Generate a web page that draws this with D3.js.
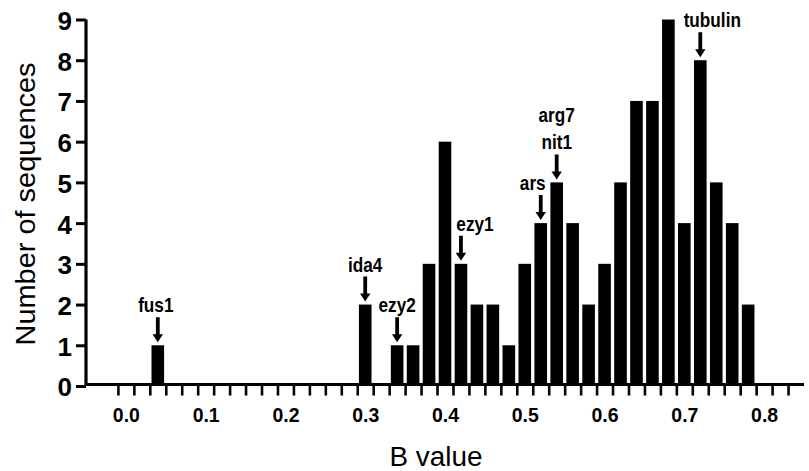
<!DOCTYPE html>
<html>
<head>
<meta charset="utf-8">
<script src="https://cdn.jsdelivr.net/npm/d3@7"></script>
<style>
  body { margin: 0; background: #fff; }
  svg { display: block; }
  text { font-family: "Liberation Sans", Arial, sans-serif; fill: #000; }
</style>
</head>
<body>
<div id="chart"></div>
<script>
    // histogram of B values, bins are 0.02 wide
    var binCenters = [0.04, 0.30, 0.34, 0.36, 0.38, 0.40, 0.42, 0.44, 0.46, 0.48,
                      0.50, 0.52, 0.54, 0.56, 0.58, 0.60, 0.62, 0.64, 0.66, 0.68,
                      0.70, 0.72, 0.74, 0.76, 0.78];
    var counts     = [1, 2, 1, 1, 3, 6, 3, 2, 2, 1,
                      3, 4, 5, 4, 2, 3, 5, 7, 7, 9,
                      4, 8, 5, 4, 2];
    var yTicks = [0, 1, 2, 3, 4, 5, 6, 7, 8, 9];
    var xLabels = [0.0, 0.1, 0.2, 0.3, 0.4, 0.5, 0.6, 0.7, 0.8];
    var xTickMarks = d3.range(-1, 85, 2).map(function(i) { return i / 100; });

    // gene markers: which bin each arrow points at
    var markerGenes = [["fus1"], ["ida4"], ["ezy2"], ["ezy1"], ["ars"], ["arg7", "nit1"], ["tubulin"]];
    var markerBins  = [0.04, 0.30, 0.34, 0.42, 0.52, 0.54, 0.72];
    var markerShift = [-2, 0, 0, 14, -8, 0, 12]; // horizontal nudge of the text, px

    var width = 809, height = 471;
    var squeeze = 0.86; // the figure uses a condensed bold face
    var svg = d3.select("#chart").append("svg")
        .attr("width", width).attr("height", height);

    var x = d3.scaleLinear().domain([-0.05, 0.85]).range([86, 804]);
    var y = d3.scaleLinear().domain([0, 9]).range([386, 19.5]);
    var half = 0.0079;

    // bars
    svg.append("g").selectAll("rect")
        .data(binCenters)
        .enter().append("rect")
        .attr("x", function(d) { return x(d - half); })
        .attr("width", function(d) { return x(d + half) - x(d - half); })
        .attr("y", function(d, i) { return y(counts[i]); })
        .attr("height", function(d, i) { return y(0) - y(counts[i]); })
        .attr("fill", "#000");

    // x axis: tick marks at bin edges, labels at tenths
    var xAxis = svg.append("g")
        .attr("transform", "translate(0," + (y(0) - 1.5) + ")")
        .call(d3.axisBottom(x).tickValues(xTickMarks).tickSize(11).tickSizeOuter(0).tickFormat(""));
    xAxis.select(".domain").attr("stroke-width", 3.2).attr("d", "M" + x.range()[0] + ",0H" + x.range()[1]);
    xAxis.selectAll(".tick line").attr("stroke-width", 2.6);

    var xLab = svg.append("g")
        .attr("transform", "translate(0," + (y(0) - 1.5) + ")")
        .call(d3.axisBottom(x).tickValues(xLabels).tickSize(0).tickPadding(0).tickFormat(d3.format(".1f")));
    xLab.select(".domain").remove();
    xLab.selectAll("text")
        .attr("y", null).attr("dy", null)
        .attr("transform", "translate(0,37.5) scale(0.95,1)")
        .attr("font-weight", "bold")
        .attr("font-size", 20.5)
        .attr("font-family", null);

    // y axis
    var yAxis = svg.append("g")
        .attr("transform", "translate(" + x.range()[0] + ",0)")
        .call(d3.axisLeft(y).tickValues(yTicks).tickSize(10).tickSizeOuter(0).tickPadding(4));
    yAxis.select(".domain").attr("stroke-width", 3.2).attr("d", "M0," + y(9) + "V" + (y(0) - 1));
    yAxis.selectAll(".tick line").attr("stroke-width", 3);
    yAxis.selectAll("text")
        .attr("font-family", null)
        .attr("font-weight", "bold")
        .attr("font-size", 26)
        .attr("dy", "0.38em");

    // axis titles
    svg.append("text")
        .attr("x", 436).attr("y", 466)
        .attr("text-anchor", "middle")
        .attr("font-size", 27)
        .attr("textLength", 93).attr("lengthAdjust", "spacingAndGlyphs")
        .text("B value");

    svg.append("text")
        .attr("transform", "translate(35,204) rotate(-90)")
        .attr("text-anchor", "middle")
        .attr("font-size", 28)
        .attr("textLength", 283).attr("lengthAdjust", "spacingAndGlyphs")
        .text("Number of sequences");

    // arrows and gene names
    var marks = svg.append("g").selectAll("g")
        .data(markerBins)
        .enter().append("g")
        .attr("transform", function(d) {
            var i = binCenters.indexOf(d);
            return "translate(" + x(d) + "," + y(counts[i]) + ")";
        });

    marks.append("path")
        .attr("d", "M-1.9,-28V-11H-5.2L0,-3L5.2,-11H1.9V-28Z")
        .attr("fill", "#000");

    marks.each(function(d, i) {
        var g = d3.select(this);
        var names = markerGenes[i];
        names.forEach(function(name, j) {
            var ty = -33 - (names.length - 1 - j) * 27;
            g.append("text")
                .attr("transform", "translate(" + markerShift[i] + "," + ty + ") scale(" + squeeze + ",1)")
                .attr("text-anchor", "middle")
                .attr("font-weight", "bold")
                .attr("font-size", 20)
                .text(name);
        });
    });
</script>
</body>
</html>
